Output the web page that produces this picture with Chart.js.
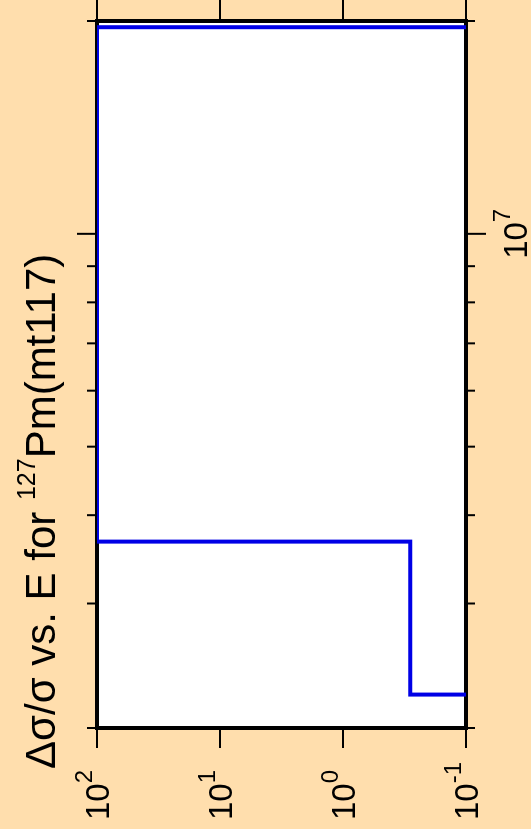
<!DOCTYPE html>
<html><head><meta charset="utf-8">
<script src="https://cdn.jsdelivr.net/npm/chart.js@4"></script>
<style>
html,body{margin:0;padding:0;background:#FFDEAD;overflow:hidden;width:531px;height:829px}
#wrap{position:absolute;left:0;top:0;width:829px;height:531px;transform-origin:0 0;transform:translate(0,829px) rotate(-90deg);}
canvas{display:block}
</style></head><body>
<div id="wrap"><canvas id="c" width="829" height="531"></canvas></div>
<script>
// Energy (eV) and relative uncertainty (step function)
const energies = [2.23e6, 2.23e6, 3.67e6, 3.67e6, 1.96e7, 1.96e7];
const relErr   = [0.1, 0.284, 0.284, 100, 100, 0.1];
// Axis ticks
const yTickValues = [100, 10, 1, 0.1];
const yTickExponents = ['2', '1', '0', '-1'];
const xMajorTicks = [1e7];
const xMajorExponents = ['7'];
const xMinorTicks = [2e6, 3e6, 4e6, 5e6, 6e6, 7e6, 8e6, 9e6, 2e7];
const titleMain = 'Δσ/σ vs. E for ';
const titleSup = '127';
const titleEnd = 'Pm(mt117)';

const FONT = '"Liberation Sans", Arial, Helvetica, sans-serif';

const decor = {
  id: 'decor',
  beforeDraw(chart) {
    const ctx = chart.ctx, a = chart.chartArea;
    ctx.save();
    ctx.fillStyle = '#FFDEAD';
    ctx.fillRect(0, 0, chart.width, chart.height);
    ctx.fillStyle = '#ffffff';
    ctx.fillRect(a.left, a.top, a.right - a.left, a.bottom - a.top);
    ctx.restore();
  },
  beforeDatasetsDraw(chart) {
    const ctx = chart.ctx, a = chart.chartArea;
    const xs = chart.scales.x, ys = chart.scales.y;
    ctx.save();
    ctx.strokeStyle = '#000';
    ctx.lineWidth = 2;
    ctx.beginPath();
    xMajorTicks.forEach(v => {
      const p = xs.getPixelForValue(v);
      ctx.moveTo(p, a.top); ctx.lineTo(p, a.top - 20);
      ctx.moveTo(p, a.bottom); ctx.lineTo(p, a.bottom + 20);
    });
    xMinorTicks.forEach(v => {
      const p = xs.getPixelForValue(v);
      ctx.moveTo(p, a.top); ctx.lineTo(p, a.top - 10);
      ctx.moveTo(p, a.bottom); ctx.lineTo(p, a.bottom + 9);
    });
    yTickValues.forEach(v => {
      const p = ys.getPixelForValue(v);
      ctx.moveTo(a.left, p); ctx.lineTo(a.left - 20, p);
      ctx.moveTo(a.right, p); ctx.lineTo(a.right + 22, p);
    });
    ctx.stroke();
    ctx.lineWidth = 4;
    ctx.strokeRect(a.left, a.top, a.right - a.left, a.bottom - a.top);

    // tick labels
    ctx.fillStyle = '#000';
    ctx.textBaseline = 'alphabetic';
    ctx.textAlign = 'left';
    yTickValues.forEach((v, i) => {
      const p = ys.getPixelForValue(v);
      ctx.font = '33px ' + FONT;
      ctx.fillText('10', 9, p + 12);
      const w = ctx.measureText('10').width;
      ctx.font = '24px ' + FONT;
      ctx.fillText(yTickExponents[i], 9 + w, p - 5);
    });
    xMajorTicks.forEach((v, i) => {
      const p = xs.getPixelForValue(v);
      ctx.font = '33px ' + FONT;
      const w1 = ctx.measureText('10').width;
      ctx.font = '24px ' + FONT;
      const w2 = ctx.measureText(xMajorExponents[i]).width;
      const start = p - (w1 + w2) / 2;
      ctx.font = '33px ' + FONT;
      ctx.fillText('10', start, 527);
      ctx.font = '24px ' + FONT;
      ctx.fillText(xMajorExponents[i], start + w1, 510);
    });

    // title
    let x = 60;
    ctx.font = '42px ' + FONT;
    ctx.fillText(titleMain, x, 55);
    x += ctx.measureText(titleMain).width;
    ctx.font = '25px ' + FONT;
    ctx.fillText(titleSup, x, 35);
    x += ctx.measureText(titleSup).width;
    ctx.font = '42px ' + FONT;
    ctx.fillText(titleEnd, x, 55);
    ctx.restore();
  }
};

new Chart(document.getElementById('c'), {
  type: 'line',
  data: {
    datasets: [{
      data: energies.map((e, i) => ({x: e, y: relErr[i]})),
      borderColor: '#0000e6',
      borderWidth: 4,
      pointRadius: 0,
      fill: false,
      tension: 0,
      borderJoinStyle: 'miter'
    }]
  },
  options: {
    responsive: false,
    animation: false,
    devicePixelRatio: 1,
    layout: {padding: {left: 101, right: 21, top: 97, bottom: 65}},
    plugins: {legend: {display: false}, tooltip: {enabled: false}, title: {display: false}},
    scales: {
      x: {type: 'logarithmic', min: 2e6, max: 2e7, display: false},
      y: {type: 'logarithmic', min: 0.1, max: 100, display: false}
    }
  },
  plugins: [decor]
});
</script>
</body></html>
